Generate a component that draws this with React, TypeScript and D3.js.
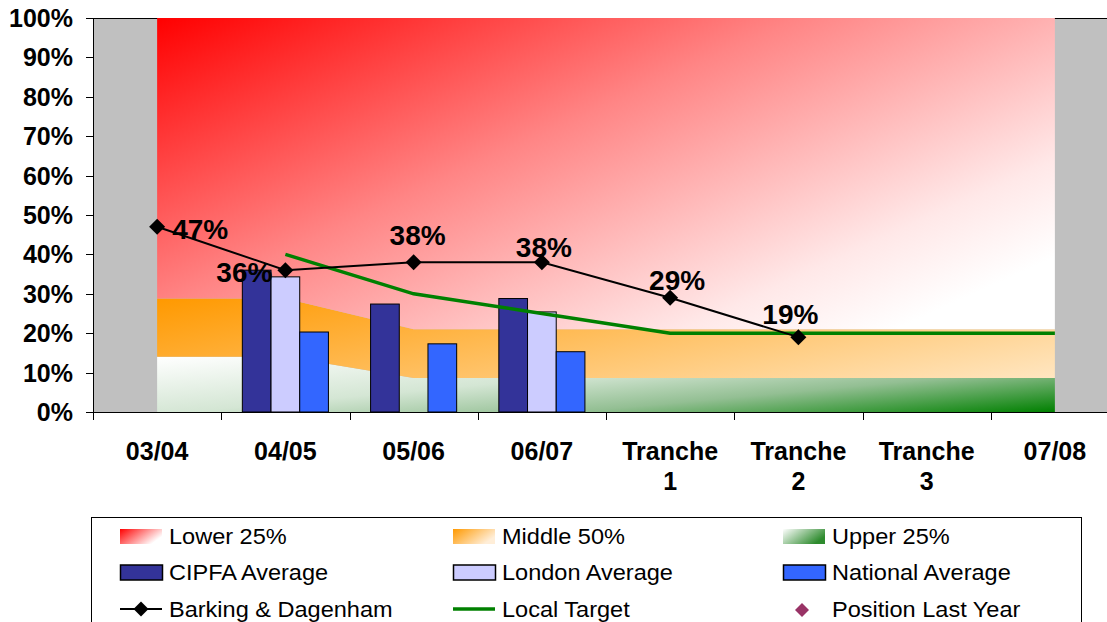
import React from "react";
import * as d3 from "d3";

// ---- data ----
const categories = ["03/04", "04/05", "05/06", "06/07", "Tranche 1", "Tranche 2", "Tranche 3", "07/08"];
const tickLabels = [["03/04"], ["04/05"], ["05/06"], ["06/07"], ["Tranche", "1"], ["Tranche", "2"], ["Tranche", "3"], ["07/08"]];
const yTicks = [0, 10, 20, 30, 40, 50, 60, 70, 80, 90, 100];

// quartile bands (stacked, bottom to top)
const upper25 = [14, 14, 8.6, 8.6, 8.6, 8.6, 8.6, 8.6];
const middle50 = [14.8, 14.8, 12.4, 12.4, 12.4, 12.4, 12.4, 12.4];
const lower25 = [71.2, 71.2, 79, 79, 79, 79, 79, 79];

const cipfaAverage = [null, 36, 27.4, 28.8, null, null, null, null];
const londonAverage = [null, 34.3, null, 25.4, null, null, null, null];
const nationalAverage = [null, 20.3, 17.3, 15.3, null, null, null, null];

const barkingDagenham = [47, 36, 38, 38, 29, 19, null, null];
const localTarget = [null, 40, 30, 25, 20, 20, 20, 20];

// label placement for the Barking & Dagenham values: [anchor, dx, dy]
const labelPlacement: [string, number, number][] = [
  ["start", 15, 12],
  ["end", -13, 12],
  ["middle", 4, -17],
  ["middle", 2, -5],
  ["middle", 7, -8],
  ["middle", -8, -13],
];

const W = 1107;
const H = 622;
const FONT = "'Liberation Sans', Arial, Helvetica, sans-serif";

export default function App() {
  const plotLeft = 93;
  const catWidth = 128.25;
  const plotRight = plotLeft + catWidth * categories.length;
  const plotTop = 18;
  const plotBottom = 412;

  const x = d3.scaleBand<string>().domain(categories).range([plotLeft, plotRight]).padding(0);
  const cx = (i: number) => (x(categories[i]) as number) + x.bandwidth() / 2;
  const y = d3.scaleLinear().domain([0, 100]).range([plotBottom, plotTop]);

  const seriesKeys = ["cipfa", "london", "national"];
  const gap = x.bandwidth() * (1 - 0.6712) / 2;
  const x1 = d3.scaleBand<string>().domain(seriesKeys).range([gap, x.bandwidth() - gap]).padding(0);

  // stacked band table
  const table = categories.map((c, i) => ({ i, upper: upper25[i], middle: middle50[i], lower: lower25[i] }));
  const stacked = d3.stack<any>().keys(["upper", "middle", "lower"])(table);
  const area = d3
    .area<any>()
    .x((d: any) => cx(d.data.i))
    .y0((d: any) => y(d[0]))
    .y1((d: any) => y(d[1]));
  const bandFills = ["url(#gUpper)", "url(#gMiddle)", "url(#gLower)"];

  const line = d3
    .line<any>()
    .defined((d: any) => d.v != null)
    .x((d: any) => cx(d.i))
    .y((d: any) => y(d.v));

  const bdPts = barkingDagenham.map((v, i) => ({ v, i }));
  const ltPts = localTarget.map((v, i) => ({ v, i }));

  const barSeries = [
    { key: "cipfa", values: cipfaAverage, fill: "#333399" },
    { key: "london", values: londonAverage, fill: "#CCCCFF" },
    { key: "national", values: nationalAverage, fill: "#3366FF" },
  ];

  const diamond = (px: number, py: number, r: number) =>
    `M${px},${py - r}L${px + r},${py}L${px},${py + r}L${px - r},${py}Z`;

  // red gradient vector across the plot
  const gx1 = cx(0);
  const gy1 = y(100);
  const gx2 = cx(0) + 0.27 * (cx(categories.length - 1) - cx(0));
  const gy2 = y(100) + 1.36 * (y(0) - y(100));

  const boundaries = categories.map((c) => x(c) as number).concat([plotRight]);

  // legend layout
  const legCols = [120, 453, 783];
  const legRows = [536.5, 572.5, 609];
  const textOff = 49;
  const legendItems = [
    { col: 0, row: 0, label: "Lower 25%", kind: "grad", fill: "url(#lgLower)" },
    { col: 1, row: 0, label: "Middle 50%", kind: "grad", fill: "url(#lgMiddle)" },
    { col: 2, row: 0, label: "Upper 25%", kind: "grad", fill: "url(#lgUpper)" },
    { col: 0, row: 1, label: "CIPFA Average", kind: "bar", fill: "#333399" },
    { col: 1, row: 1, label: "London Average", kind: "bar", fill: "#CCCCFF" },
    { col: 2, row: 1, label: "National Average", kind: "bar", fill: "#3366FF" },
    { col: 0, row: 2, label: "Barking & Dagenham", kind: "lineMarker", fill: "#000" },
    { col: 1, row: 2, label: "Local Target", kind: "line", fill: "#008000" },
    { col: 2, row: 2, label: "Position Last Year", kind: "marker", fill: "#993366" },
  ];

  return (
    <svg
      width={W}
      height={H}
      viewBox={`0 0 ${W} ${H}`}
      style={{ position: "absolute", left: 0, top: 0, background: "#fff" }}
      fontFamily={FONT}
    >
      <defs>
        <linearGradient id="gLower" gradientUnits="userSpaceOnUse" x1={gx1} y1={gy1} x2={gx2} y2={gy2}>
          <stop offset="0" stopColor="#FF0000" />
          <stop offset="0.45" stopColor="#FF8585" />
          <stop offset="0.85" stopColor="#FFE8E8" />
          <stop offset="1" stopColor="#FFFFFF" />
        </linearGradient>
        <linearGradient id="gMiddle" x1="0" y1="0" x2="1.268" y2="0.585">
          <stop offset="0" stopColor="#FF9900" />
          <stop offset="1" stopColor="#FFEACB" />
        </linearGradient>
        <linearGradient id="gUpper" x1="0" y1="0" x2="1.154" y2="0.769">
          <stop offset="0" stopColor="#FFFFFF" />
          <stop offset="0.42" stopColor="#D4E6D4" />
          <stop offset="0.68" stopColor="#93BF93" />
          <stop offset="1" stopColor="#008000" />
        </linearGradient>
        <linearGradient id="lgLower" x1="0" y1="0" x2="1" y2="0.5">
          <stop offset="0" stopColor="#FF0000" />
          <stop offset="1" stopColor="#FFFFFF" />
        </linearGradient>
        <linearGradient id="lgMiddle" x1="0" y1="0" x2="1" y2="0.5">
          <stop offset="0" stopColor="#FF9900" />
          <stop offset="1" stopColor="#FFEED8" />
        </linearGradient>
        <linearGradient id="lgUpper" x1="0" y1="0" x2="1" y2="0.5">
          <stop offset="0" stopColor="#FFFFFF" />
          <stop offset="1" stopColor="#2E8B2E" />
        </linearGradient>
      </defs>

      {/* plot area background */}
      <rect
        x={plotLeft + 0.5}
        y={plotTop + 0.5}
        width={plotRight - plotLeft}
        height={plotBottom - plotTop}
        fill="#C0C0C0"
        stroke="#000"
        strokeWidth={1}
      />

      {/* quartile bands */}
      {stacked.map((s, k) => (
        <path key={k} d={area(s as any) as string} fill={bandFills[k]} />
      ))}

      {/* bars */}
      {barSeries.map((s) =>
        s.values.map((v, i) =>
          v == null ? null : (
            <rect
              key={s.key + i}
              x={(x(categories[i]) as number) + (x1(s.key) as number)}
              y={y(v)}
              width={x1.bandwidth()}
              height={y(0) - y(v)}
              fill={s.fill}
              stroke="#000"
              strokeWidth={1}
            />
          )
        )
      )}

      {/* axes */}
      <line x1={plotLeft + 0.5} x2={plotLeft + 0.5} y1={plotTop} y2={plotBottom + 0.5} stroke="#000" />
      <line x1={plotLeft - 7} x2={plotRight} y1={plotBottom + 0.5} y2={plotBottom + 0.5} stroke="#000" />
      {yTicks.map((t) => (
        <g key={t}>
          <line x1={plotLeft - 7} x2={plotLeft} y1={Math.round(y(t)) + 0.5} y2={Math.round(y(t)) + 0.5} stroke="#000" />
          <text x={73} y={y(t) + 9} textAnchor="end" fontSize={25} fontWeight="bold" fill="#000">
            {t}%
          </text>
        </g>
      ))}
      {boundaries.map((b, i) => (
        <line key={i} x1={Math.round(b) + 0.5} x2={Math.round(b) + 0.5} y1={plotBottom} y2={plotBottom + 8} stroke="#000" />
      ))}
      {tickLabels.map((lines, i) => (
        <text key={i} x={cx(i)} y={460} textAnchor="middle" fontSize={25} fontWeight="bold" fill="#000">
          {lines.map((l, j) => (
            <tspan key={j} x={cx(i)} dy={j === 0 ? 0 : 30}>
              {l}
            </tspan>
          ))}
        </text>
      ))}

      {/* local target */}
      <path d={line(ltPts) as string} fill="none" stroke="#008000" strokeWidth={3.5} />

      {/* Barking & Dagenham */}
      <path d={line(bdPts) as string} fill="none" stroke="#000" strokeWidth={2} />
      {bdPts.map((p) =>
        p.v == null ? null : <path key={p.i} d={diamond(cx(p.i), y(p.v), 8)} fill="#000" />
      )}
      {bdPts.map((p) => {
        if (p.v == null) return null;
        const [anchor, dx, dy] = labelPlacement[p.i];
        return (
          <text
            key={"l" + p.i}
            x={cx(p.i) + dx}
            y={y(p.v) + dy}
            textAnchor={anchor as any}
            fontSize={28}
            fontWeight="bold"
            fill="#000"
          >
            {p.v}%
          </text>
        );
      })}

      {/* legend */}
      <rect x={91.5} y={517.5} width={990} height={130} fill="#fff" stroke="#000" strokeWidth={1} />
      {legendItems.map((it, k) => {
        const sx = legCols[it.col];
        const ry = legRows[it.row];
        let sw: React.ReactNode = null;
        if (it.kind === "grad") {
          sw = <rect x={sx} y={ry - 7.5} width={42} height={15} fill={it.fill} />;
        } else if (it.kind === "bar") {
          sw = <rect x={sx + 0.5} y={ry - 7.5} width={42} height={15} fill={it.fill} stroke="#000" strokeWidth={1.5} />;
        } else if (it.kind === "lineMarker") {
          sw = (
            <g>
              <line x1={sx} x2={sx + 42} y1={ry} y2={ry} stroke="#000" strokeWidth={2} />
              <path d={diamond(sx + 21, ry, 7.5)} fill="#000" />
            </g>
          );
        } else if (it.kind === "line") {
          sw = <line x1={sx} x2={sx + 42} y1={ry} y2={ry} stroke={it.fill} strokeWidth={3.5} />;
        } else {
          sw = <path d={diamond(sx + 19, ry + 1, 7)} fill={it.fill} />;
        }
        return (
          <g key={k}>
            {sw}
            <text
              transform={`translate(${sx + textOff},${ry + 7.5}) scale(1.07,1)`}
              fontSize={22}
              fill="#000"
            >
              {it.label}
            </text>
          </g>
        );
      })}
    </svg>
  );
}
